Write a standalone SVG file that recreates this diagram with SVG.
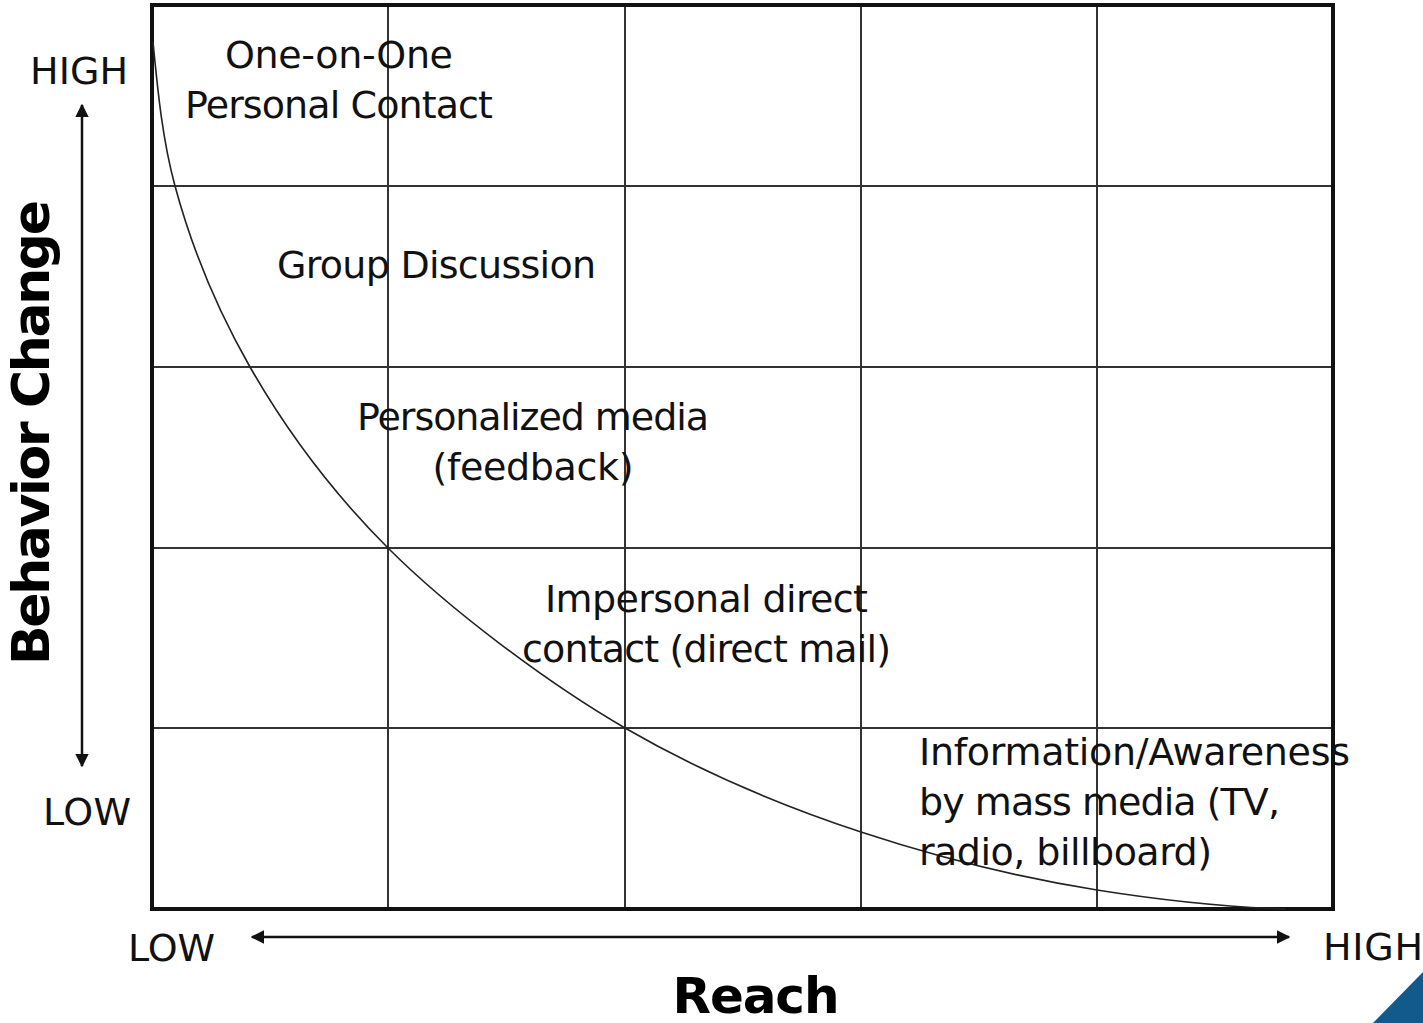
<svg xmlns="http://www.w3.org/2000/svg" width="1423" height="1023" viewBox="0 0 1423 1023">
  <defs>
    <style>
      .lbl { font-family: "DejaVu Sans", Verdana, sans-serif; font-size: 38px; fill: #111; }
      .ttl { font-family: "DejaVu Sans", Verdana, sans-serif; font-weight: bold; font-size: 52px; fill: #000; }
      .grid { stroke: #333; stroke-width: 2; fill: none; }
      .axis { stroke: #111; stroke-width: 2.5; fill: none; }
    </style>
    <marker id="ah" viewBox="0 0 10 10" refX="9" refY="5" markerWidth="5.5" markerHeight="5.5" markerUnits="strokeWidth" orient="auto-start-reverse">
      <path d="M0,0 L10,5 L0,10 z" fill="#111"/>
    </marker>
  </defs>
  <rect width="1423" height="1023" fill="#fff"/>

  <g id="grid">
    <line class="grid" x1="388" y1="5" x2="388" y2="909"/>
    <line class="grid" x1="625" y1="5" x2="625" y2="909"/>
    <line class="grid" x1="861" y1="5" x2="861" y2="909"/>
    <line class="grid" x1="1097" y1="5" x2="1097" y2="909"/>
    <line class="grid" x1="152" y1="186" x2="1333" y2="186"/>
    <line class="grid" x1="152" y1="367" x2="1333" y2="367"/>
    <line class="grid" x1="152" y1="548" x2="1333" y2="548"/>
    <line class="grid" x1="152" y1="728" x2="1333" y2="728"/>
    <rect x="152" y="5" width="1181" height="904" fill="none" stroke="#111" stroke-width="4"/>
  </g>

  <g id="connectors">
    <path id="curve" d="M153,42 C157.7,90 162.3,139 175,186 C191.3,246.3 215.6,306.7 250,367 C284.4,427.3 327.7,487.7 388,548 C448,608 546,682.2 625,728 C703.7,773.6 782.3,806 861,832 C939.7,858 1018.3,877.4 1097,890 C1154.7,899.2 1220,906.8 1285,909" fill="none" stroke="#222" stroke-width="1.6"/>
    <line id="y-axis" class="axis" x1="82" y1="105" x2="82" y2="766" marker-start="url(#ah)" marker-end="url(#ah)"/>
    <line id="x-axis" class="axis" x1="252" y1="937" x2="1289" y2="937" marker-start="url(#ah)" marker-end="url(#ah)"/>
  </g>

  <g id="axis-labels">
    <text class="lbl" x="30" y="84" textLength="98">HIGH</text>
    <text class="lbl" x="43" y="825" textLength="88">LOW</text>
    <text class="lbl" x="128" y="961" textLength="87">LOW</text>
    <text class="lbl" x="1323" y="960" textLength="100">HIGH</text>
    <text class="ttl" x="756" y="1013" text-anchor="middle" textLength="167" style="font-size:50px">Reach</text>
    <text class="ttl" transform="translate(49,432.5) rotate(-90)" x="0" y="0" text-anchor="middle" textLength="465">Behavior Change</text>
  </g>

  <g id="node-personal-contact">
    <text class="lbl" x="339" y="68" text-anchor="middle" textLength="228">One-on-One</text>
    <text class="lbl" x="339" y="118" text-anchor="middle" textLength="308">Personal Contact</text>
  </g>
  <g id="node-group-discussion">
    <text class="lbl" x="436.5" y="278" text-anchor="middle" textLength="319">Group Discussion</text>
  </g>
  <g id="node-personalized-media">
    <text class="lbl" x="533" y="430" text-anchor="middle" textLength="352">Personalized media</text>
    <text class="lbl" x="533" y="480" text-anchor="middle" textLength="201">(feedback)</text>
  </g>
  <g id="node-impersonal-direct">
    <text class="lbl" x="706.5" y="612" text-anchor="middle" textLength="323">Impersonal direct</text>
    <text class="lbl" x="706.5" y="662" text-anchor="middle" textLength="369">contact (direct mail)</text>
  </g>
  <g id="node-mass-media">
    <text class="lbl" x="919" y="765" textLength="431">Information/Awareness</text>
    <text class="lbl" x="919" y="815" textLength="361">by mass media (TV,</text>
    <text class="lbl" x="919" y="865" textLength="293">radio, billboard)</text>
  </g>

  <polygon id="corner" points="1423,972 1423,1023 1373,1023" fill="#135a8c"/>
</svg>
